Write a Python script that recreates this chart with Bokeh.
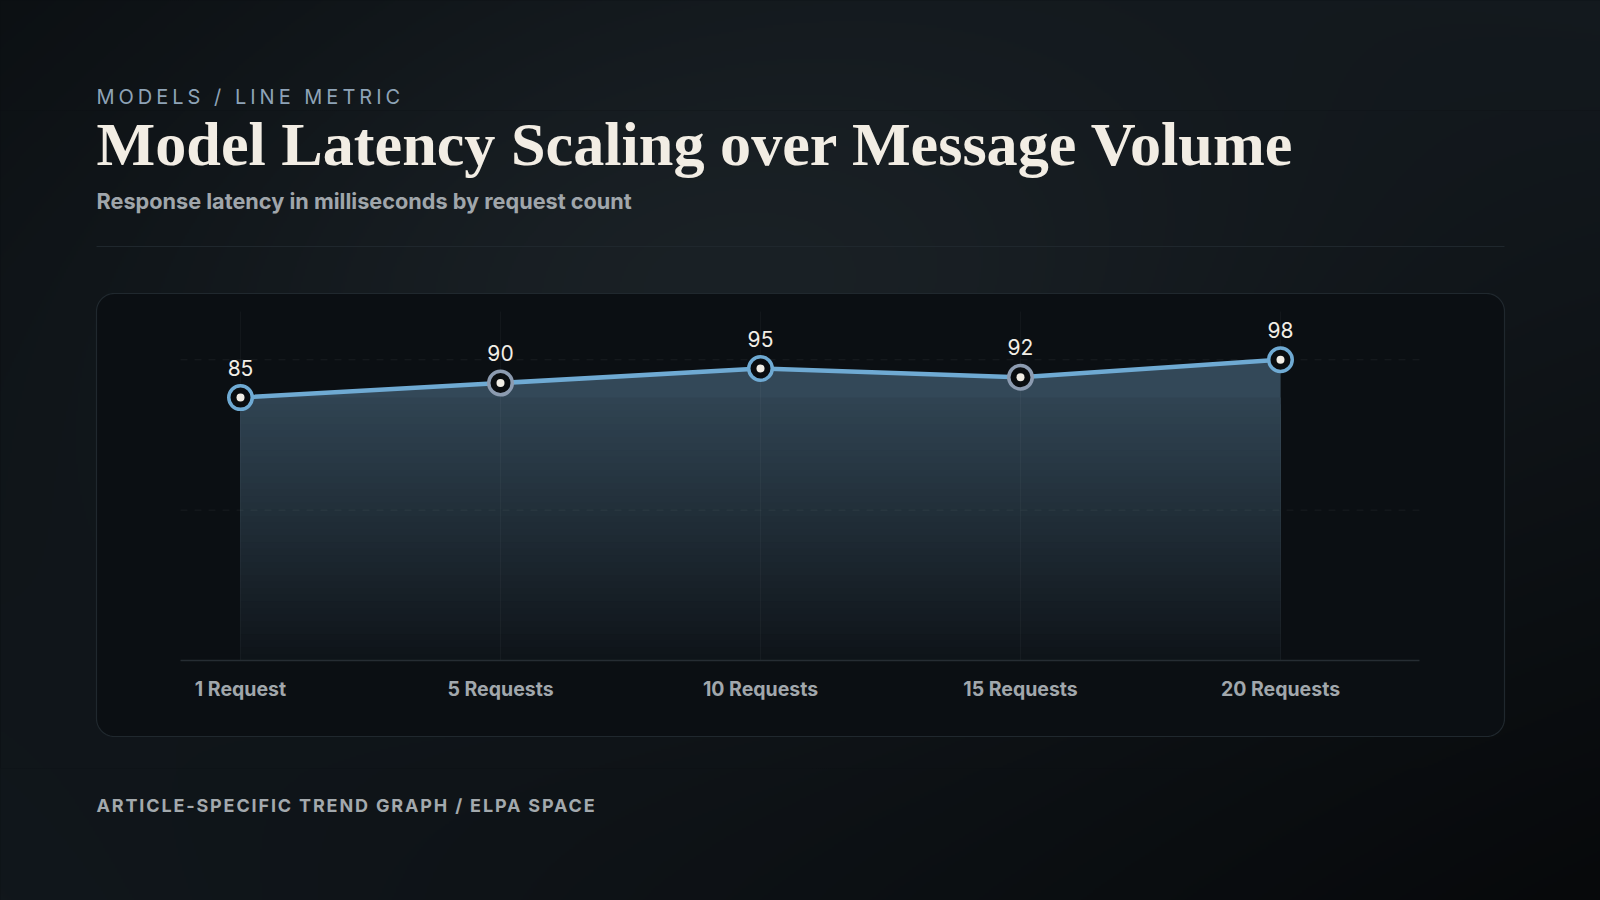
import numpy as np
from bokeh.plotting import figure
from bokeh.layouts import column
from bokeh.models import Range1d
from bokeh.core.properties import value
from bokeh.embed import file_html
from bokeh.resources import INLINE

# ---------------- data ----------------
categories = ["1 Request", "5 Requests", "10 Requests", "15 Requests", "20 Requests"]
latency_ms = [85, 90, 95, 92, 98]
grid_values = [46.3, 98.0]

eyebrow = "MODELS / LINE METRIC"
title = "Model Latency Scaling over Message Volume"
subtitle = "Response latency in milliseconds by request count"
footer = "ARTICLE-SPECIFIC TREND GRAPH / ELPA SPACE"

# ---------------- layout (pixels, measured from top-left) ----------------
W, H = 1600, 900
PL, PR, PT, PB = 180, 1419, 311, 660          # plot area
X_DOM = (-0.2308, 4.5346)                     # domain shown in the plot area
Y_DOM = (-5.4, 114.6)
BANDS = [(0, 110), (110, 768), (768, 900)]    # stacked figure strips
BG = "#0b0f12"


def T(y):  # top-based pixel -> bottom-based
    return H - y


def bg_color(X, Yt):
    u = (np.asarray(X, float) / W)[..., None]
    v = (np.asarray(Yt, float) / H)[..., None]
    TL = np.array([11, 15, 18.0]); TR = np.array([19, 25, 30.0])
    BL = np.array([17, 23, 28.0]); BR = np.array([7, 9, 11.0])
    base = TL * (1 - u) * (1 - v) + TR * u * (1 - v) + BL * (1 - u) * v + BR * u * v
    glow = np.exp(-(((np.asarray(X, float) - 720) / 560) ** 2 +
                    ((np.asarray(Yt, float) - 300) / 340) ** 2))[..., None]
    return (base + glow * np.array([12, 14, 15.0])).clip(0, 255)


def bg_image(top, bottom, step=2):
    nx, ny = W // step, (bottom - top) // step
    gx = (np.arange(nx) + 0.5) * step
    gy = bottom - (np.arange(ny) + 0.5) * (bottom - top) / ny   # row 0 = bottom
    X, Yt = np.meshgrid(gx, gy)
    col = bg_color(X, Yt)
    img = np.empty((ny, nx), dtype=np.uint32)
    view = img.view(dtype=np.uint8).reshape((ny, nx, 4))
    view[..., :3] = col.astype(np.uint8)
    view[..., 3] = 255
    return img


def edge_css(top):
    xs = np.linspace(0, W, 17)
    cols = bg_color(xs, np.full_like(xs, top + 1.0))
    stops = ", ".join("rgb(%d,%d,%d) %.1f%%" % (c[0], c[1], c[2], 100 * x / W)
                      for c, x in zip(cols, xs))
    return "linear-gradient(to right, %s)" % stops


def make_fig(top, bottom, x_range=None, y_range=None, spacing=None):
    h = bottom - top
    if x_range is not None:
        kw = dict(x_range=x_range, y_range=y_range)
    else:
        kw = dict(x_range=Range1d(0, W), y_range=Range1d(T(bottom), T(top)))
    f = figure(width=W, height=h, output_backend="svg", toolbar_location=None,
               x_axis_type=None, y_axis_type=None, min_border=0,
               outline_line_color=None, **kw)
    f.background_fill_color = BG
    f.border_fill_color = BG
    st = {"background": edge_css(top)}
    if spacing:
        st["letter-spacing"] = spacing
    f.styles = st
    f.extra_x_ranges = {"px": Range1d(0, W)}
    f.extra_y_ranges = {"px": Range1d(T(bottom), T(top))}
    f.image_rgba(image=[bg_image(top, bottom)], x=-3, y=T(bottom) - 3, dw=W + 6, dh=h + 6,
                 x_range_name="px", y_range_name="px")
    return f


PX = dict(x_range_name="px", y_range_name="px")


def label(f, x, y, txt, font, size, color, style="normal", shift=0.37):
    f.text(x=[x], y=[T(y - shift * size)], text=[txt], text_font=value(font),
           text_font_size="%gpx" % size, text_font_style=style, text_color=color,
           text_baseline="alphabetic", text_align="left", **PX)


# ---------------- strip A : eyebrow ----------------
fa = make_fig(*BANDS[0], spacing="4px")
label(fa, 96, 104, eyebrow, "Inter", 20, "#8ea3b7")

# ---------------- strip B : title + chart ----------------
top_b, bot_b = BANDS[1]
xs_per_px = (X_DOM[1] - X_DOM[0]) / (PR - PL)
ys_per_px = (Y_DOM[1] - Y_DOM[0]) / (PB - PT)
x_range = Range1d(X_DOM[0] - PL * xs_per_px, X_DOM[1] + (W - PR) * xs_per_px)
y_range = Range1d(Y_DOM[0] - (bot_b - PB) * ys_per_px, Y_DOM[1] + (PT - top_b) * ys_per_px)
p = make_fig(top_b, bot_b, x_range, y_range)

label(p, 96, 166.5, title, "Liberation Serif", 62.2, "#f2ede4", "bold")
label(p, 96, 209, subtitle, "Inter", 21.7, "#a0a6ab", "bold")

# divider
p.segment(x0=[96], y0=[T(246)], x1=[1504], y1=[T(246)], line_color="#1f272d", line_width=1, **PX)


# card
def rounded_rect(x0, y0, x1, y1, r, n=14):
    pts = []
    for cx, cy, a0, a1 in [(x1 - r, y0 + r, -90, 0), (x1 - r, y1 - r, 0, 90),
                           (x0 + r, y1 - r, 90, 180), (x0 + r, y0 + r, 180, 270)]:
        for a in np.radians(np.linspace(a0, a1, n)):
            pts.append((cx + r * np.cos(a), cy + r * np.sin(a)))
    return [q[0] for q in pts], [T(q[1]) for q in pts]


cx, cy = rounded_rect(96, 293, 1504, 736, 18)
p.patch(cx, cy, fill_color="#0b0f13", line_color="#20282e", line_width=1.2, **PX)

idx = list(range(len(categories)))
n = len(idx)
ymin_val = min(latency_ms)
top_c = np.array([53, 75, 91.0])
bot_c = np.array([14, 19, 24.0])


def grad_color(yv):
    t = (yv - Y_DOM[0]) / (max(latency_ms) - Y_DOM[0])
    c = bot_c + (top_c - bot_c) * max(0.0, min(1.0, t))
    return "#%02x%02x%02x" % tuple(int(round(k)) for k in c)


# gradient area: full area in the top colour, then darker lower slices on top
p.varea(x=idx, y1=[Y_DOM[0]] * n, y2=latency_ms, fill_color=grad_color(93))
NB = 40
for k in range(NB - 1, -1, -1):
    hi = Y_DOM[0] + (k + 1) * (ymin_val - Y_DOM[0]) / NB
    mid = hi - 0.5 * (ymin_val - Y_DOM[0]) / NB
    p.varea(x=idx, y1=[Y_DOM[0]] * n, y2=[hi] * n, fill_color=grad_color(mid))

# grid lines
p.segment(x0=idx, y0=[Y_DOM[0]] * n, x1=idx, y1=[Y_DOM[1]] * n,
          line_color="#ffffff", line_alpha=0.035, line_width=1)
p.segment(x0=[X_DOM[0]] * len(grid_values), y0=grid_values, x1=[X_DOM[1]] * len(grid_values),
          y1=grid_values, line_color="#ffffff", line_alpha=0.06, line_width=1, line_dash="7 7")
# baseline
p.segment(x0=[X_DOM[0]], y0=[Y_DOM[0]], x1=[X_DOM[1]], y1=[Y_DOM[0]],
          line_color="#262d33", line_width=1.5)

# line and markers
ring = ["#6faad3", "#8c9bb0", "#6faad3", "#8c9bb0", "#6faad3"]
p.line(idx, latency_ms, line_color="#6faad3", line_width=4.5)
p.scatter(idx, latency_ms, size=23.5, fill_color="#0a0d10", line_color=ring, line_width=3.5)
p.scatter(idx, latency_ms, size=8, fill_color="#f1ede5", line_color=None)

# value labels
p.text(idx, latency_ms, text=[str(v) for v in latency_ms], y_offset=-30,
       text_font=value("Inter"), text_font_size="21px", text_color="#f2eee6",
       text_align="center", text_baseline="alphabetic")

# category labels
p.text(idx, [Y_DOM[0]] * n, text=categories, y_offset=28,
       text_font=value("Inter"), text_font_size="19.5px", text_font_style="bold",
       text_color="#a1a7ac", text_align="center", text_baseline="alphabetic")

# ---------------- strip C : footer ----------------
fc = make_fig(*BANDS[2], spacing="1.85px")
label(fc, 96, 812, footer, "Inter", 18, "#a3a9ad", "bold")

layout = column(fa, p, fc, spacing=0, styles={"background-color": BG})
open("out.html", "w").write(file_html(layout, INLINE))
